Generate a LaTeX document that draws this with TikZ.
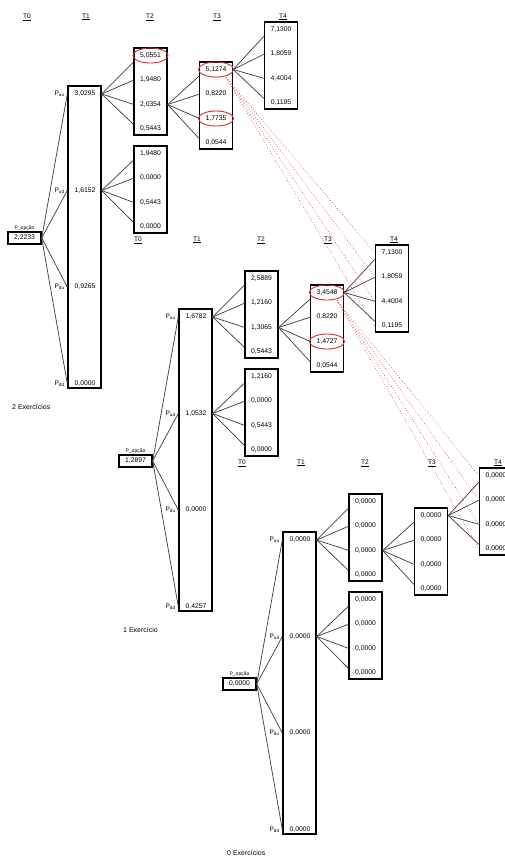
\documentclass[tikz,border=0pt]{standalone}
\usepackage{fontspec}
\setmainfont{Liberation Sans}
\usetikzlibrary{positioning}
\definecolor{cLinha}{HTML}{444444}
\definecolor{cMarca}{HTML}{D62E2A}

\tikzset{
  caixa/.style={draw, line width=1.4pt, minimum width=33pt,
                minimum height=87pt, inner sep=0pt},
  val/.style={font=\fontsize{6.8}{7}\selectfont, inner sep=0.5pt},
  cab/.style={font=\fontsize{6.6}{7}\selectfont, inner sep=0.5pt},
  rot/.style={font=\fontsize{6.6}{7}\selectfont, inner sep=0pt},
  rotop/.style={font=\fontsize{5}{5}\selectfont, inner sep=0.5pt},
  leg/.style={font=\fontsize{7}{8}\selectfont, inner sep=0pt, anchor=west},
  liga/.style={draw=cLinha, line width=0.75pt},
  marca/.style={draw=cMarca, line width=0.9pt},
  pont/.style={draw=cMarca, line width=0.6pt, dotted},
}

% caixa de quatro valores: nome, x, topo, valores
\newcommand{\coluna}[4]{%
  \node[caixa] (#1) at (#2,{#3+43.5}) {};
  \foreach \v [count=\i] in {#4}
    \node[val] (#1v\i) at (#2,{#3+7.5+24.5*(\i-1)}) {\v};
}

% leque de ligacoes: caixa de origem, valor de origem, caixa de destino
\newcommand{\leque}[3]{%
  \foreach \d in {15,33,57,77}
    \draw[liga] (#2 -| #1.east) -- ([yshift=-\d pt]#3.north west);
}

% arvore: prefixo, raiz, T1, T2 (cima), T2 (baixo), T3, T4, legenda
\newcommand{\arvore}[8]{%
  \foreach \x [count=\i from 0] in {27,86,150,217,283}
    \node[cab] (#1h\i) at (\x,17) {\underline{T\i}};
  % raiz
  \node[caixa, val, minimum height=12pt] (#1r) at (24.5,238) {#2};
  \node[rotop, above=0.3pt of #1r] (#1po) {P\_opção};
  % T1
  \node[caixa, minimum height=302pt] (#1t1) at (84.5,237) {};
  \foreach \v [count=\i] in {#3}
    \node[val] (#1t1v\i) at (85,{94+96.5*(\i-1)}) {\v};
  \foreach \s [count=\i] in {uu,ud,du,dd} {
    \coordinate (#1e\i) at (#1t1v\i -| #1t1.west);
    \node[rot, left=2.5pt of #1e\i] (#1p\i) {P\textsubscript{\s}};
    \draw[liga] (#1r.east) -- (#1e\i);
  }
  % T2, T3, T4
  \coluna{#1a}{150.5}{48}{#4}
  \coluna{#1b}{150.5}{146}{#5}
  \coluna{#1c}{216}{62}{#6}
  \coluna{#1d}{281}{22}{#7}
  \leque{#1t1}{#1t1v1}{#1a}
  \leque{#1t1}{#1t1v2}{#1b}
  \leque{#1a}{#1av3}{#1c}
  \leque{#1c}{#1cv1}{#1d}
  \node[leg] (#1leg) at (12,407) {#8};
}

\begin{document}
\begin{tikzpicture}[x=1pt, y=-1pt]
  \useasboundingbox (0,0) rectangle (505,857);
  \clip (0,0) rectangle (505,857);

  % 2 exercicios
  \arvore{p1}{2,2233}{{3,0295},{1,6152},{0,9265},{0,0000}}
    {{5,0551},{1,9480},{2,0354},{0,5443}}{{1,9480},{0,0000},{0,5443},{0,0000}}
    {{5,1274},{0,8220},{1,7735},{0,0544}}{{7,1300},{1,8059},{4,4004},{0,1195}}
    {2 Exercícios}

  % 1 exercicio
  \begin{scope}[shift={(111,223)}]
    \arvore{p2}{1,2897}{{1,6782},{1,0532},{0,0000},{0,4257}}
      {{2,5889},{1,2160},{1,3065},{0,5443}}{{1,2160},{0,0000},{0,5443},{0,0000}}
      {{3,4548},{0,8220},{1,4727},{0,0544}}{{7,1300},{1,8059},{4,4004},{0,1195}}
      {1 Exercício}
  \end{scope}

  % 0 exercicios
  \begin{scope}[shift={(215,446)}]
    \arvore{p3}{0,0000}{{0,0000},{0,0000},{0,0000},{0,0000}}
      {{0,0000},{0,0000},{0,0000},{0,0000}}{{0,0000},{0,0000},{0,0000},{0,0000}}
      {{0,0000},{0,0000},{0,0000},{0,0000}}{{0,0000},{0,0000},{0,0000},{0,0000}}
      {0 Exercícios}
  \end{scope}

  % valores marcados
  \foreach \m in {p1av1,p1cv1,p1cv3,p2cv1,p2cv3}
    \draw[marca] (\m) ellipse [x radius=17.5pt, y radius=7.5pt];

  % ligacoes entre arvores
  \coordinate (s1) at ([shift={(10pt,-8pt)}]p1cv1.center);
  \coordinate (s2) at ([shift={(10pt,-8pt)}]p2cv1.center);
  \foreach \i in {1,...,4} {
    \draw[pont] (s1) -- (p2dv\i -| p2d.west);
    \draw[pont] (s2) -- (p3dv\i -| p3d.west);
  }
\end{tikzpicture}
\end{document}
